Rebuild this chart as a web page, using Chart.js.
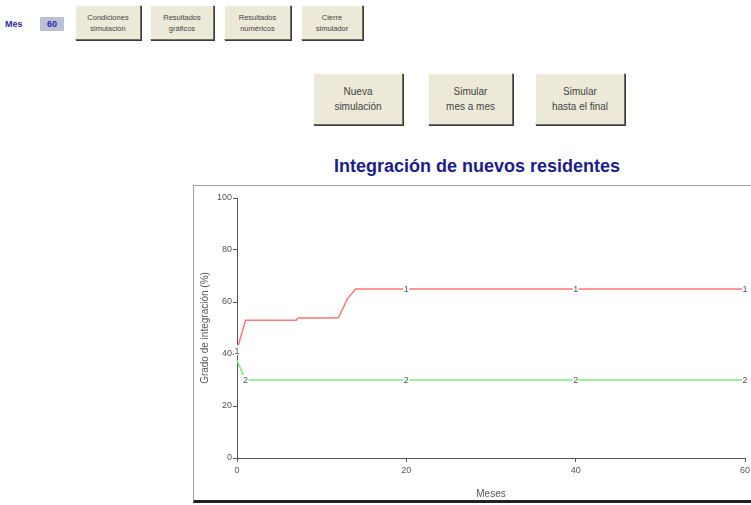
<!DOCTYPE html>
<html><head><meta charset="utf-8">
<script src="https://cdn.jsdelivr.net/npm/chart.js@4/dist/chart.umd.min.js"></script>
<style>
html,body{margin:0;padding:0;background:#fff;width:751px;height:505px;overflow:hidden;}
body{position:relative;font-family:"Liberation Sans",Arial,sans-serif;}
.btn{position:absolute;background:#ece9d8;box-sizing:border-box;border-top:1px solid #fff;border-left:1px solid #fff;border-right:1px solid #716f64;border-bottom:1px solid #716f64;box-shadow:1px 1px 0 #3a3a3a;color:#444;text-align:center;display:flex;align-items:center;justify-content:center;}
.s{font-size:7.5px;line-height:11px;}
.m{font-size:10px;line-height:15px;}
#mes{position:absolute;left:5px;top:19px;font-size:9px;font-weight:bold;color:#2a2aa8;}
#val{position:absolute;left:40px;top:17px;width:24px;height:14px;background:#bcc0d4;font-size:9px;font-weight:bold;color:#2a2aa8;text-align:center;line-height:15px;}
#title{position:absolute;left:193px;width:568px;top:156px;text-align:center;font-size:18px;font-weight:bold;color:#1c1c8c;}
#frame{position:absolute;left:193px;top:185px;width:600px;height:318px;box-sizing:border-box;border-top:1px solid #a0a0a0;border-left:1px solid #a0a0a0;border-bottom:3px solid #222;background:#fff;}
#wrap{position:absolute;left:0;top:0;width:571px;height:314px;}
</style></head>
<body>
<div id="mes">Mes</div>
<div id="val">60</div>
<div class="btn s" style="left:75px;top:5px;width:66px;height:35px;">Condiciones<br>simulación</div>
<div class="btn s" style="left:150px;top:5px;width:64px;height:35px;">Resultados<br>gráficos</div>
<div class="btn s" style="left:224px;top:5px;width:67px;height:35px;">Resultados<br>numéricos</div>
<div class="btn s" style="left:301px;top:5px;width:62px;height:35px;">Cierre<br>simulador</div>
<div class="btn m" style="left:313px;top:73px;width:90px;height:52px;">Nueva<br>simulación</div>
<div class="btn m" style="left:428px;top:73px;width:85px;height:52px;">Simular<br>mes a mes</div>
<div class="btn m" style="left:535px;top:73px;width:90px;height:52px;">Simular<br>hasta el final</div>
<div id="title">Integración de nuevos residentes</div>
<div id="frame"><div id="wrap"><canvas id="c"></canvas></div></div>
<script>
const months = [0,1,2,3,4,5,6,7,7.2,8,9,10,11,12,13,14,15,16,17,18,19,20,21,22,23,24,25,26,27,28,29,30,31,32,33,34,35,36,37,38,39,40,41,42,43,44,45,46,47,48,49,50,51,52,53,54,55,56,57,58,59,60];
const serie1 = [41.5,53,53,53,53,53,53,53,53.8,53.8,53.8,53.8,53.8,54,61,65,65,65,65,65,65,65,65,65,65,65,65,65,65,65,65,65,65,65,65,65,65,65,65,65,65,65,65,65,65,65,65,65,65,65,65,65,65,65,65,65,65,65,65,65,65,65];
const serie2 = [37.5,30,30,30,30,30,30,30,30,30,30,30,30,30,30,30,30,30,30,30,30,30,30,30,30,30,30,30,30,30,30,30,30,30,30,30,30,30,30,30,30,30,30,30,30,30,30,30,30,30,30,30,30,30,30,30,30,30,30,30,30,30];
const yTicks = [0,20,40,60,80,100];
const xTicks = [0,20,40,60];
const labelMonths1 = [0,20,40,60];
const labelMonths2 = [1,20,40,60];

const pts = (arr) => months.map((m,i)=>({x:m,y:arr[i]}));

const pointLabels = {
  id:'pointLabels',
  afterDatasetsDraw(chart){
    const ctx = chart.ctx;
    const xs = chart.scales.x, ys = chart.scales.y;
    ctx.save();
    ctx.font = '9px "Liberation Sans", Arial, sans-serif';
    ctx.textAlign = 'center';
    ctx.textBaseline = 'middle';
    const draw = (ms, arr, txt) => {
      ms.forEach(m=>{
        const i = months.indexOf(m);
        const px = xs.getPixelForValue(months[i]);
        const py = ys.getPixelForValue(arr[i]);
        ctx.fillStyle = '#fff';
        ctx.fillRect(px-3, py-5, 6, 10);
        ctx.fillStyle = '#555';
        ctx.fillText(txt, px, py+1);
      });
    };
    draw(labelMonths1, serie1, '1');
    draw(labelMonths2, serie2, '2');
    ctx.restore();
  }
};

new Chart(document.getElementById('c'), {
  type:'line',
  data:{datasets:[
    {data:pts(serie1), borderColor:'#ff7878', borderWidth:1.5, pointRadius:0, tension:0, fill:false},
    {data:pts(serie2), borderColor:'#78f078', borderWidth:1.5, pointRadius:0, tension:0, fill:false}
  ]},
  options:{
    responsive:true, maintainAspectRatio:false, animation:false,
    layout:{padding:{top:12,left:0,right:20,bottom:0}},
    plugins:{legend:{display:false}, tooltip:{enabled:false}},
    scales:{
      x:{type:'linear', min:0, max:60,
        afterBuildTicks:(s)=>{s.ticks = xTicks.map(v=>({value:v}));},
        afterFit:(s)=>{s.height = 42;},
        ticks:{font:{size:9,family:'"Liberation Sans", Arial, sans-serif'}, color:'#555', padding:3, maxRotation:0},
        grid:{drawOnChartArea:false, tickLength:4, color:'#555'},
        border:{color:'#555', width:1},
        title:{display:true, text:'Meses', font:{size:10,family:'"Liberation Sans", Arial, sans-serif'}, color:'#555', padding:{top:2,bottom:0}}
      },
      y:{min:0, max:100,
        afterBuildTicks:(s)=>{s.ticks = yTicks.map(v=>({value:v}));},
        afterFit:(s)=>{s.width = 43;},
        ticks:{font:{size:9,family:'"Liberation Sans", Arial, sans-serif'}, color:'#555', padding:1},
        grid:{drawOnChartArea:false, tickLength:4, color:'#555'},
        border:{color:'#555', width:1},
        title:{display:true, text:'Grado de integración (%)', font:{size:10,family:'"Liberation Sans", Arial, sans-serif'}, color:'#555', padding:{top:5,bottom:2}}
      }
    }
  },
  plugins:[pointLabels]
});
</script>
</body></html>
